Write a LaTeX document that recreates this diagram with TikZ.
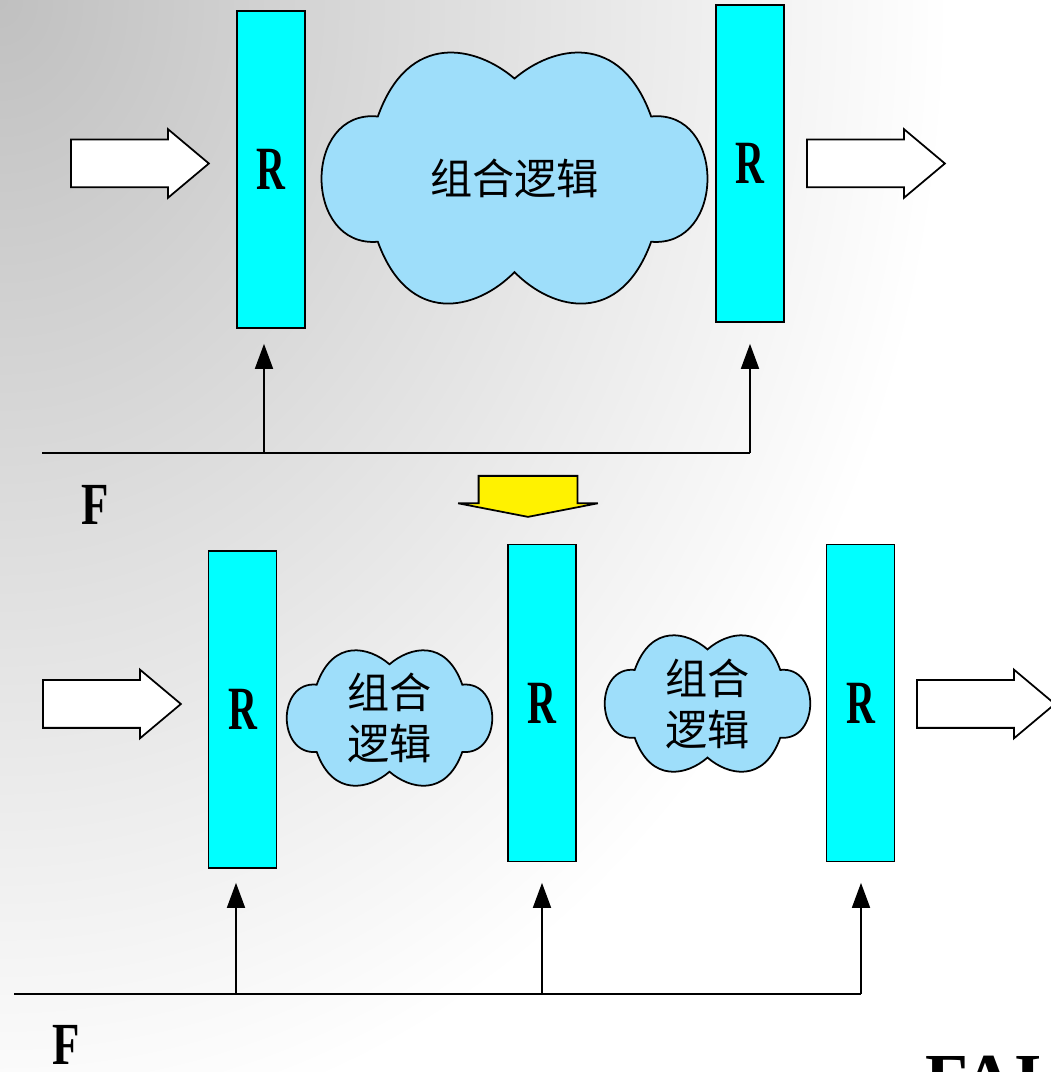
\documentclass[tikz,border=0pt]{standalone}
\usepackage{fontspec}
\setmainfont{Liberation Serif}
\newfontfamily\cjk{Noto Sans CJK SC}
\usetikzlibrary{shapes.arrows,arrows.meta,positioning}
\definecolor{regcyan}{RGB}{0,255,255}
\definecolor{cloudblue}{RGB}{158,222,250}
\definecolor{bgdark}{RGB}{192,192,192}
\newcommand{\Rlab}{{\fontsize{35}{35}\selectfont\bfseries\scalebox{0.65}[1]{R}}}
\newcommand{\Flab}{{\fontsize{34}{34}\selectfont\bfseries\scalebox{0.75}[1]{F}}}
% cloud outline round (#1), half width #2, half height #3, notch depth #4
\newcommand{\logiccloud}[4]{%
  \draw[fill=cloudblue,shift={(#1)},xscale=#2,yscale=#3]
    (0,0.79) .. controls (-0.2,1.05) and (-0.55,1.17) .. (-0.71,0.49)
    .. controls (-1.1,0.55) and (-1.1,-0.55) .. (-0.71,-0.5)
    .. controls (-0.55,-1.17) and (-0.2,-1.05) .. (0,-#4)
    .. controls (0.2,-1.05) and (0.55,-1.17) .. (0.71,-0.5)
    .. controls (1.1,-0.55) and (1.1,0.55) .. (0.71,0.49)
    .. controls (0.55,1.17) and (0.2,1.05) .. (0,0.79) -- cycle;}

\begin{document}
\begin{tikzpicture}[line width=1pt,
  reg/.style={draw,fill=regcyan,minimum width=1.36cm,minimum height=6.34cm,inner sep=0pt},
  logic/.style={inner sep=0pt,font=\cjk\fontsize{24pt}{29pt}\selectfont,align=center},
  flow/.style={single arrow,draw,fill=white,anchor=tail,minimum height=2.76cm,inner xsep=0pt,
    inner ysep=0.46cm,single arrow head extend=0.21cm,single arrow tip angle=80},
  clk/.style={-{Triangle[width=0.36cm,length=0.5cm]}}]

\useasboundingbox (0,0) rectangle (21,21.44);
\begin{scope}
  \clip (0,0) rectangle (21,21.44);
  \shade[inner color=bgdark,outer color=white] (0,21.44) ellipse (19 and 23);
\end{scope}

% before
\node[flow] (inA)  at (1.4,18.17)   {};
\node[reg]  (rA)   at (5.42,18.05)  {\Rlab};
\coordinate (cA) at (10.29,17.87);
\logiccloud{cA}{3.85}{2.53}{0.74}
\node[logic] (tA) at (cA) {组合逻辑};
\node[reg]  (rB)   at (15.0,18.17)  {\Rlab};
\node[flow] (outA) at (16.12,18.17) {};

\coordinate (fA) at (0.84,12.38);
\coordinate (kA) at (5.28,12.38);
\coordinate (kB) at (15.0,12.38);
\draw (fA) -- (kB);
\draw[clk,shorten >=0.3cm]  (kA) -- (kA |- rA.south);
\draw[clk,shorten >=0.42cm] (kB) -- (kB |- rB.south);
\node (FA) at (1.9,11.34) {\Flab};

% step
\node[single arrow,draw,fill=yellow,rotate=-90,anchor=tail,minimum height=0.82cm,inner xsep=0pt,
  inner ysep=0.97cm,single arrow head extend=0.41cm,single arrow tip angle=158] (step) at (10.56,11.94) {};

% after
\node[flow] (inB)  at (0.84,7.36)  {};
\node[reg]  (rC)   at (4.85,7.25)  {\Rlab};
\coordinate (cB) at (7.79,7.08);
\logiccloud{cB}{2.05}{1.36}{0.79}
\node[logic] (tB) at (cB) {组合\\逻辑};
\node[reg]  (rD)   at (10.84,7.38) {\Rlab};
\coordinate (cC) at (14.15,7.37);
\logiccloud{cC}{2.05}{1.37}{0.79}
\node[logic] (tC) at (cC) {组合\\逻辑};
\node[reg]  (rE)   at (17.21,7.38) {\Rlab};
\node[flow] (outB) at (18.32,7.36) {};

\coordinate (fB) at (0.28,1.56);
\coordinate (kC) at (4.72,1.56);
\coordinate (kD) at (10.84,1.56);
\coordinate (kE) at (17.22,1.56);
\draw (fB) -- (kE);
\draw[clk,shorten >=0.28cm] (kC) -- (kC |- rC.south);
\draw[clk,shorten >=0.41cm] (kD) -- (kD |- rD.south);
\draw[clk,shorten >=0.41cm] (kE) -- (kE |- rE.south);
\node (FB) at (1.32,0.54) {\Flab};

\node[anchor=base west,inner sep=0pt,font=\bfseries\fontsize{40}{40}\selectfont] (fai) at (18.5,-0.6) {FAI};
\end{tikzpicture}
\end{document}
